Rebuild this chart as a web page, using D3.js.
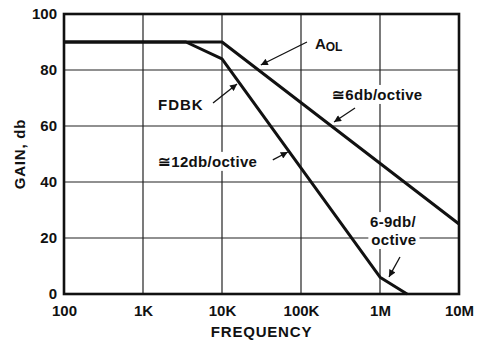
<!DOCTYPE html>
<html>
<head>
<meta charset="UTF-8">
<script src="https://d3js.org/d3.v7.min.js"></script>
<style>
  body { margin: 0; background: #fff; }
  text { font-family: "Liberation Sans", Arial, sans-serif; font-weight: bold; fill: #111; }
</style>
</head>
<body>
<script>
// tick values and labels
const freqTicks = [100, 1e3, 1e4, 1e5, 1e6, 1e7];
const freqLabels = ["100", "1K", "10K", "100K", "1M", "10M"];
const gainTicks = [0, 20, 40, 60, 80, 100];

// open loop gain
const aolFreq = [100, 1e4, 1e7];
const aolGain = [90, 90, 25];

// feedback curve
const fdbkFreq = [100, 3500, 1e4, 1e6, 2.2e6];
const fdbkGain = [90, 90, 84, 6, 0];

const width = 477, height = 344;
const margin = { top: 14, right: 18, bottom: 50, left: 64 };

const svg = d3.select("body").append("svg")
    .attr("width", width)
    .attr("height", height);

const x = d3.scaleLog().domain([100, 1e7]).range([margin.left, width - margin.right]);
const y = d3.scaleLinear().domain([0, 100]).range([height - margin.bottom, margin.top]);

// grid
svg.append("g").selectAll("line").data(freqTicks).enter().append("line")
    .attr("x1", d => x(d)).attr("x2", d => x(d))
    .attr("y1", y(0)).attr("y2", y(100))
    .attr("stroke", "#222").attr("stroke-width", 1.2);
svg.append("g").selectAll("line").data(gainTicks).enter().append("line")
    .attr("y1", d => y(d)).attr("y2", d => y(d))
    .attr("x1", x(100)).attr("x2", x(1e7))
    .attr("stroke", "#222").attr("stroke-width", 1.2);

// axes (labels only)
const xAxis = svg.append("g")
    .attr("transform", `translate(0,${y(0)})`)
    .call(d3.axisBottom(x).tickValues(freqTicks).tickFormat((d, i) => freqLabels[i]).tickSize(0).tickPadding(11));
const yAxis = svg.append("g")
    .attr("transform", `translate(${x(100)},0)`)
    .call(d3.axisLeft(y).tickValues(gainTicks).tickSize(0).tickPadding(7));
[xAxis, yAxis].forEach(a => {
    a.select(".domain").remove();
    a.selectAll("text").attr("font-size", 15).attr("font-family", "Liberation Sans, Arial, sans-serif")
        .attr("font-weight", "bold").attr("fill", "#111");
});

// frame
svg.append("rect")
    .attr("x", x(100)).attr("y", y(100))
    .attr("width", x(1e7) - x(100)).attr("height", y(0) - y(100))
    .attr("fill", "none").attr("stroke", "#111").attr("stroke-width", 2.6);

const line = d3.line().x(d => x(d[0])).y(d => y(d[1]));

// annotation backgrounds + labels
const labels = [
    { f: 1550, g: 65.7, text: "FDBK", anchor: "start" },
    { f: 1550, g: 45.4, text: "\u224512db/octive", anchor: "start", bg: true },
    { f: 2.47e5, g: 69.3, text: "\u22456db/octive", anchor: "start", bg: true },
    { f: 1.46e6, g: 23.9, text: "6-9db/", anchor: "middle", bg: true },
    { f: 1.5e6, g: 17.5, text: "octive", anchor: "middle", bg: true }
];
const labelG = svg.append("g");
labels.forEach(l => {
    const g = labelG.append("g");
    const t = g.append("text")
        .attr("x", x(l.f)).attr("y", y(l.g))
        .attr("text-anchor", l.anchor)
        .attr("font-size", 15)
        .attr("letter-spacing", l.text === "FDBK" ? 1 : 0.3)
        .text(l.text);
    if (l.bg) {
        const b = t.node().getBBox();
        g.insert("rect", "text")
            .attr("x", b.x - 3).attr("y", b.y - 1)
            .attr("width", b.width + 6).attr("height", b.height + 2)
            .attr("fill", "#fff");
    }
});

// A_OL label
const aol = svg.append("text")
    .attr("x", x(1.5e5)).attr("y", y(87.5))
    .attr("font-size", 15);
aol.append("tspan").text("A");
aol.append("tspan").attr("font-size", 12).attr("dy", 2).text("OL");

// curves
svg.append("path")
    .attr("d", line(aolFreq.map((f, i) => [f, aolGain[i]])))
    .attr("fill", "none").attr("stroke", "#111").attr("stroke-width", 3).attr("stroke-linejoin", "round");
svg.append("path")
    .attr("d", line(fdbkFreq.map((f, i) => [f, fdbkGain[i]])))
    .attr("fill", "none").attr("stroke", "#111").attr("stroke-width", 3).attr("stroke-linejoin", "round");

// arrows: [tail freq, tail gain, tip freq, tip gain]
const arrows = [
    [7.7e3, 68.2, 1.55e4, 75],
    [4.4e4, 47.9, 6.8e4, 50.7],
    [1.19e5, 90, 3.1e4, 81.8],
    [4.83e5, 66.4, 2.62e5, 61.4],
    [1.79e6, 13.2, 1.3e6, 6.1]
];
svg.append("defs").append("marker")
    .attr("id", "head")
    .attr("viewBox", "0 0 10 10")
    .attr("refX", 10).attr("refY", 5)
    .attr("markerWidth", 9).attr("markerHeight", 7)
    .attr("markerUnits", "userSpaceOnUse")
    .attr("orient", "auto")
    .append("path").attr("d", "M0,0 L10,5 L0,10 Z").attr("fill", "#111");
svg.append("g").selectAll("line").data(arrows).enter().append("line")
    .attr("x1", d => x(d[0])).attr("y1", d => y(d[1]))
    .attr("x2", d => x(d[2])).attr("y2", d => y(d[3]))
    .attr("stroke", "#111").attr("stroke-width", 1.3)
    .attr("marker-end", "url(#head)");

// axis titles
svg.append("text")
    .attr("x", (x(100) + x(1e7)) / 2).attr("y", 337)
    .attr("text-anchor", "middle").attr("font-size", 15).attr("letter-spacing", 0.8)
    .text("FREQUENCY");
svg.append("text")
    .attr("transform", `translate(25,${y(50)}) rotate(-90)`)
    .attr("text-anchor", "middle").attr("font-size", 15).attr("letter-spacing", 0.8)
    .text("GAIN, db");
</script>
</body>
</html>
